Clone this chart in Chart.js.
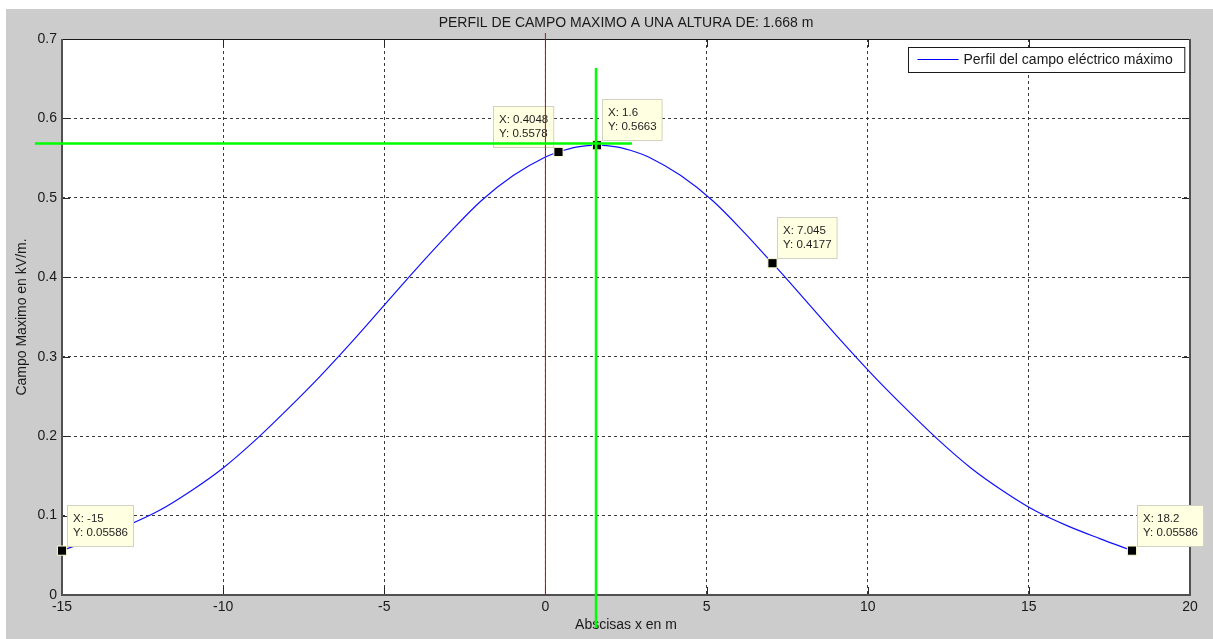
<!DOCTYPE html>
<html>
<head>
<meta charset="utf-8">
<script src="https://cdn.jsdelivr.net/npm/chart.js@4.4.1/dist/chart.umd.min.js"></script>
<style>
  body { margin: 0; background: #ffffff; }
  #grafico { display: block; }
</style>
</head>
<body>
<canvas id="grafico" width="1213" height="639"></canvas>
<script>
// datos
var abscisas = [-15, -14, -13, -12, -11, -10, -9, -8, -7, -6, -5, -4, -3, -2, -1, 0, 0.4048, 1, 1.6, 2.2, 2.8, 3.2, 4.2, 5.2, 6.2, 7.045, 7.2, 8.2, 9.2, 10.2, 11.2, 12.2, 13.2, 14.2, 15.2, 16.2, 17.2, 18.2];
var campo = [0.0559, 0.071, 0.087, 0.106, 0.131, 0.160, 0.195, 0.234, 0.275, 0.319, 0.365, 0.411, 0.455, 0.496, 0.528, 0.5515, 0.5578, 0.5642, 0.5663, 0.5642, 0.5578, 0.5515, 0.528, 0.496, 0.455, 0.4177, 0.411, 0.365, 0.319, 0.275, 0.234, 0.195, 0.160, 0.131, 0.106, 0.087, 0.071, 0.0559];

var tipX = [-15, 0.4048, 1.6, 7.045, 18.2];
var tipY = [0.05586, 0.5578, 0.5663, 0.4177, 0.05586];

var rojoX = [0, 0];
var rojoY = [0, 0.7075];
var verdeVX = [1.57, 1.57];
var verdeVY = [-0.0415, 0.6635];
var verdeHX = [-15.84, 2.685];
var verdeHY = [0.5685, 0.5685];

var xTicks = [-15, -10, -5, 0, 5, 10, 15, 20];
var yTicks = [0, 0.1, 0.2, 0.3, 0.4, 0.5, 0.6, 0.7];

var titulo = "PERFIL DE CAMPO MAXIMO A UNA ALTURA DE: 1.668 m";
var tituloX = "Abscisas x en m";
var tituloY = "Campo Maximo en kV/m.";
var leyenda = "Perfil del campo eléctrico máximo";

var FONT = '"Liberation Sans", Arial, sans-serif';
var tipSide = [1, -1, 1, 1, 1];

function puntos(xs, ys) {
    var out = [];
    for (var i = 0; i < xs.length; i++) {
        out.push({x: xs[i], y: ys[i]});
    }
    return out;
}

var fondoPlugin = {
    id: "fondo",
    beforeDraw: function(chart) {
        var ctx = chart.ctx;
        var a = chart.chartArea;
        ctx.save();
        ctx.fillStyle = "#ffffff";
        ctx.fillRect(0, 0, chart.width, chart.height);
        ctx.fillStyle = "#cccccc";
        ctx.fillRect(6, 9, chart.width - 6, chart.height - 9);
        ctx.fillStyle = "#ffffff";
        ctx.fillRect(a.left, a.top, a.right - a.left, a.bottom - a.top);
        ctx.restore();
    },
    beforeDatasetsDraw: function(chart) {
        var ctx = chart.ctx;
        var a = chart.chartArea;
        var xs = chart.scales.x;
        var ys = chart.scales.y;
        ctx.save();
        // marcas de las divisiones hacia dentro
        ctx.strokeStyle = "#262626";
        ctx.lineWidth = 1;
        ctx.beginPath();
        xTicks.forEach(function(v) {
            var px = Math.round(xs.getPixelForValue(v)) + 0.5;
            ctx.moveTo(px, a.bottom); ctx.lineTo(px, a.bottom - 8);
            ctx.moveTo(px, a.top); ctx.lineTo(px, a.top + 8);
        });
        yTicks.forEach(function(v) {
            var py = Math.round(ys.getPixelForValue(v)) + 0.5;
            ctx.moveTo(a.left, py); ctx.lineTo(a.left + 8, py);
            ctx.moveTo(a.right, py); ctx.lineTo(a.right - 8, py);
        });
        ctx.stroke();

        // caja de los ejes
        ctx.strokeStyle = "#1a1a1a";
        ctx.beginPath();
        ctx.moveTo(a.left, a.top + 0.5); ctx.lineTo(a.right, a.top + 0.5);
        ctx.stroke();
        ctx.strokeStyle = "#505050";
        ctx.lineWidth = 2;
        ctx.beginPath();
        ctx.moveTo(a.left, a.top); ctx.lineTo(a.left, a.bottom);
        ctx.lineTo(a.right, a.bottom); ctx.lineTo(a.right, a.top);
        ctx.stroke();

        // textos
        ctx.fillStyle = "#1a1a1a";
        ctx.font = "14px " + FONT;
        ctx.textAlign = "center";
        ctx.textBaseline = "middle";
        ctx.fillText(titulo, (a.left + a.right) / 2, 23);
        ctx.fillText(tituloX, (a.left + a.right) / 2, 625);
        ctx.translate(22, (a.top + a.bottom) / 2);
        ctx.rotate(-Math.PI / 2);
        ctx.fillText(tituloY, 0, 0);
        ctx.restore();
    },
    afterDatasetDraw: function(chart, args) {
        if (args.index !== 1) return;
        var ctx = chart.ctx;
        var xs = chart.scales.x;
        var ys = chart.scales.y;
        ctx.save();
        ctx.font = "11.5px " + FONT;
        ctx.textBaseline = "middle";
        ctx.textAlign = "left";
        for (var i = 0; i < tipX.length; i++) {
            var l1 = "X: " + tipX[i];
            var l2 = "Y: " + tipY[i];
            var w = Math.max(ctx.measureText(l1).width, ctx.measureText(l2).width) + 11;
            var h = 41;
            var px = xs.getPixelForValue(tipX[i]);
            var py = ys.getPixelForValue(tipY[i]);
            var bx = tipSide[i] > 0 ? px + 5 : px - 5 - w;
            var by = py - 46;
            bx = Math.round(bx) + 0.5;
            by = Math.round(by) + 0.5;
            ctx.fillStyle = "#ffffe1";
            ctx.fillRect(bx, by, w, h);
            ctx.strokeStyle = "#d2d2c2";
            ctx.lineWidth = 1;
            ctx.strokeRect(bx, by, w, h);
            ctx.fillStyle = "#1e1e1e";
            ctx.fillText(l1, bx + 5.5, by + 13.5);
            ctx.fillText(l2, bx + 5.5, by + 27.5);
        }
        ctx.restore();
    },
    afterDraw: function(chart) {
        var ctx = chart.ctx;
        var a = chart.chartArea;
        ctx.save();
        ctx.font = "14px " + FONT;
        var tw = ctx.measureText(leyenda).width;
        var w = tw + 67;
        var lx = a.right - 6 - w;
        var ly = a.top + 8;
        lx = Math.round(lx) + 0.5;
        ly = Math.round(ly) + 0.5;
        ctx.fillStyle = "#ffffff";
        ctx.fillRect(lx, ly, w, 25);
        ctx.strokeStyle = "#1a1a1a";
        ctx.lineWidth = 1;
        ctx.strokeRect(lx, ly, w, 25);
        ctx.strokeStyle = "#0000ff";
        ctx.beginPath();
        ctx.moveTo(lx + 9, ly + 12);
        ctx.lineTo(lx + 50, ly + 12);
        ctx.stroke();
        ctx.fillStyle = "#1a1a1a";
        ctx.textAlign = "left";
        ctx.textBaseline = "middle";
        ctx.fillText(leyenda, lx + 55, ly + 12.5);
        ctx.restore();
    }
};

var ctx = document.getElementById("grafico").getContext("2d");
window.graficoCampo = new Chart(ctx, {
    type: "scatter",
    data: {
        datasets: [
            {
                label: "verdeV",
                data: puntos(verdeVX, verdeVY),
                showLine: true,
                borderColor: "#00ff00",
                borderWidth: 2.5,
                pointRadius: 0,
                clip: false,
                order: 1
            },
            {
                label: "marcadores",
                data: puntos(tipX, tipY),
                showLine: false,
                pointStyle: "rect",
                pointRadius: 6.5,
                backgroundColor: "#000000",
                borderColor: "#ffffd0",
                borderWidth: 1,
                clip: false,
                order: 4
            },
            {
                label: leyenda,
                data: puntos(abscisas, campo),
                showLine: true,
                borderColor: "#1010ff",
                borderWidth: 1.2,
                pointRadius: 0,
                cubicInterpolationMode: "monotone",
                clip: false,
                order: 5
            },
            {
                label: "verdeH",
                data: puntos(verdeHX, verdeHY),
                showLine: true,
                borderColor: "#00ff00",
                borderWidth: 2.5,
                pointRadius: 0,
                clip: false,
                order: 2
            },
            {
                label: "rojo",
                data: puntos(rojoX, rojoY),
                showLine: true,
                borderColor: "#e00000",
                borderWidth: 1,
                pointRadius: 0,
                clip: false,
                order: 3
            }
        ]
    },
    options: {
        responsive: false,
        animation: false,
        devicePixelRatio: 1,
        layout: {padding: {left: 0, top: 39, right: 23, bottom: 0}},
        plugins: {
            legend: {display: false},
            tooltip: {enabled: false},
            title: {display: false}
        },
        scales: {
            x: {
                type: "linear",
                min: -15,
                max: 20,
                afterFit: function(scale) { scale.height = 44; },
                afterBuildTicks: function(scale) {
                    scale.ticks = xTicks.map(function(v) { return {value: v}; });
                },
                ticks: {
                    color: "#1a1a1a",
                    font: {family: FONT, size: 14},
                    padding: 4,
                    maxRotation: 0,
                    autoSkip: false,
                    callback: function(v) { return String(v); }
                },
                grid: {color: "#3a3a3a", lineWidth: 1, drawTicks: false},
                border: {display: false, dash: [3, 3]}
            },
            y: {
                type: "linear",
                min: 0,
                max: 0.7,
                afterFit: function(scale) { scale.width = 62; },
                afterBuildTicks: function(scale) {
                    scale.ticks = yTicks.map(function(v) { return {value: v}; });
                },
                ticks: {
                    color: "#1a1a1a",
                    font: {family: FONT, size: 14},
                    padding: 5,
                    autoSkip: false,
                    callback: function(v) { return String(Number(v.toFixed(1))); }
                },
                grid: {color: "#3a3a3a", lineWidth: 1, drawTicks: false},
                border: {display: false, dash: [3, 3]}
            }
        }
    },
    plugins: [fondoPlugin]
});
</script>
</body>
</html>
